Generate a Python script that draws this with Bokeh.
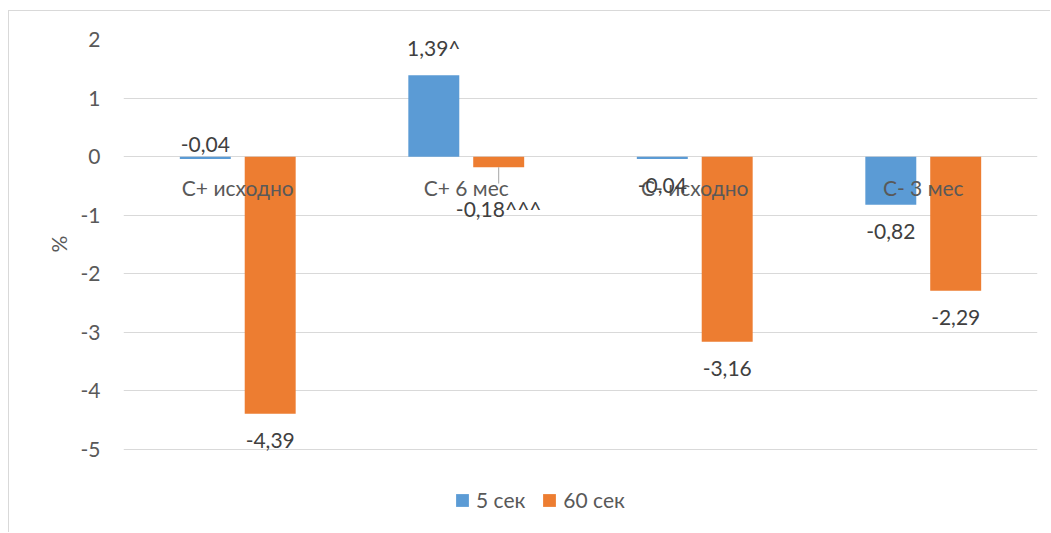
from bokeh.plotting import figure
from bokeh.models import (FactorRange, Range1d, ColumnDataSource, FixedTicker,
                          Legend, LegendItem, PrintfTickFormatter, Title)
from bokeh.transform import dodge
from bokeh.core.properties import value
from bokeh.embed import file_html
from bokeh.resources import INLINE

categories = ["С+ исходно", "С+ 6 мес", "С- исходно", "С- 3 мес"]
series_names = ["5 сек", "60 сек"]
values_5s = [-0.04, 1.39, -0.04, -0.82]
values_60s = [-4.39, -0.18, -3.16, -2.29]
suffix_5s = ["", "^", "", ""]
suffix_60s = ["", "^^^", "", ""]
y_ticks = [-5, -4, -3, -2, -1, 0, 1, 2]
y_title = "%"

BLUE = "#5B9BD5"
ORANGE = "#ED7D31"
GRID = "#D9D9D9"
FONT = "Lato"
FS = "21px"


def fmt(v, sfx):
    return f"{v:.2f}".replace(".", ",") + sfx


def label_offsets(vals):
    # outside-end placement: above positive bars, below negative ones
    return [-28 if v > 0 else 27 for v in vals]


off5 = label_offsets(values_5s)
off60 = label_offsets(values_60s)
off5[0] = -14      # first small bar: label lifted above the axis
off60[1] = 41      # second orange label pulled down, joined by a leader line

src5 = ColumnDataSource(dict(cat=categories, val=values_5s,
                             lab=[fmt(v, s) for v, s in zip(values_5s, suffix_5s)],
                             off=off5))
src60 = ColumnDataSource(dict(cat=categories, val=values_60s,
                              lab=[fmt(v, s) for v, s in zip(values_60s, suffix_60s)],
                              off=off60))
src_cat = ColumnDataSource(dict(cat=categories, zero=[0] * len(categories)))

# the plot frame reaches down to the bottom edge so the legend can sit inside it
p = figure(width=1042, height=522, x_range=FactorRange(*categories),
           y_range=Range1d(-6.434, 2.0), output_backend="svg",
           toolbar_location=None,
           min_border_left=114, min_border_right=14, min_border_top=28,
           min_border_bottom=0)
# chart-area frame: thin grey top and left edges
p.margin = (10, 0, 0, 8)
p.styles = {"border-top": f"1px solid {GRID}", "border-left": f"1px solid {GRID}"}
p.outline_line_color = None
p.background_fill_color = "white"
p.border_fill_color = "white"

p.xaxis.visible = False
p.xgrid.visible = False
p.ygrid.grid_line_color = GRID
p.ygrid.grid_line_width = 1
p.yaxis.ticker = FixedTicker(ticks=y_ticks)
p.yaxis.formatter = PrintfTickFormatter(format="%d")
p.yaxis.axis_line_color = None
p.yaxis.major_tick_line_color = None
p.yaxis.minor_tick_line_color = None
p.yaxis.major_label_standoff = 17
p.yaxis.major_label_text_font = FONT
p.yaxis.major_label_text_font_size = FS
p.yaxis.major_label_text_color = "#595959"

# vertical axis title, lifted so it is centred on the -5..2 span
p.add_layout(Title(text=y_title, align="left", offset=281, standoff=14,
                   text_font=FONT, text_font_style="normal",
                   text_font_size=FS, text_color="#595959"), "left")

W = 0.223
D = 0.142
b5 = p.vbar(x=dodge("cat", -D, range=p.x_range), top="val", bottom=0, width=W,
            source=src5, fill_color=BLUE, line_color=None)
b60 = p.vbar(x=dodge("cat", D, range=p.x_range), top="val", bottom=0, width=W,
             source=src60, fill_color=ORANGE, line_color=None)

# leader line for the displaced label
lead = ColumnDataSource(dict(cat=[categories[1]], y0=[values_60s[1]],
                             y1=[values_60s[1] - 0.28]))
p.segment(x0=dodge("cat", D, range=p.x_range), x1=dodge("cat", D, range=p.x_range),
          y0="y0", y1="y1", source=lead, line_color="#A6A6A6", line_width=1)

# category labels sit next to the zero line
p.text(x="cat", y="zero", text="cat", source=src_cat, y_offset=31,
       text_align="center", text_baseline="middle", text_font=value(FONT),
       text_font_size=FS, text_color="#595959")

for src, d in ((src5, -D), (src60, D)):
    p.text(x=dodge("cat", d, range=p.x_range), y="val", text="lab", source=src,
           y_offset="off", text_align="center", text_baseline="middle",
           text_font=value(FONT), text_font_size=FS, text_color="#404040")

legend = Legend(items=[LegendItem(label=series_names[0], renderers=[b5]),
                       LegendItem(label=series_names[1], renderers=[b60])],
                orientation="horizontal", location=(331, 21),
                glyph_width=16, glyph_height=16, label_height=22,
                label_standoff=6, spacing=16, padding=0, margin=0,
                border_line_color=None, background_fill_alpha=0,
                label_text_font=FONT, label_text_font_size=FS,
                label_text_color="#595959")
p.add_layout(legend)

open("out.html", "w").write(file_html(p, INLINE))
